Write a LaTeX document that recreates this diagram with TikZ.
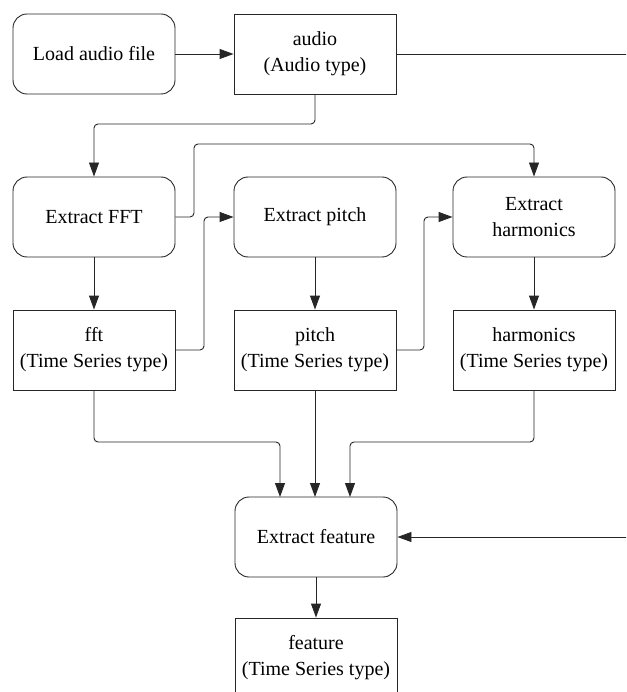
\documentclass[tikz,border=0pt]{standalone}
\usepackage{fontspec}
\setmainfont{Liberation Serif}
\usetikzlibrary{arrows.meta}
\begin{document}
\begin{tikzpicture}[x=1pt,y=-1pt,
  box/.style={draw=black!85, line width=0.9pt, font=\fontsize{20}{26}\selectfont,
    align=center, inner sep=0pt, minimum width=162pt, minimum height=80pt},
  proc/.style={box, rounded corners=14pt},
  data/.style={box},
  wire/.style={draw=black!85, line width=0.9pt, rounded corners=4pt},
  link/.style={wire, -{Triangle[length=14pt,width=10pt]}},
]
\clip (0,0) rectangle (626,692);

% processing steps (rounded) and data items (square)
\node[proc] (load)  at (94,54)   {Load audio file};
\node[data] (audio) at (315,54)  {audio\\(Audio type)};

\node[proc] (xfft)   at (94,217)  {Extract FFT};
\node[proc] (xpitch) at (315,217) {Extract pitch};
\node[proc] (xharm)  at (534,217) {Extract\\harmonics};

\node[data] (fft)   at (94,350)  {fft\\(Time Series type)};
\node[data] (pitch) at (315,350) {pitch\\(Time Series type)};
\node[data] (harm)  at (534,350) {harmonics\\(Time Series type)};

\node[proc] (xfeat) at (316,537) {Extract feature};
\node[data] (feat)  at (316,658) {feature\\(Time Series type)};

% free ends leaving the right edge
\coordinate (outA) at (630,54);
\coordinate (inB)  at (630,537);

% connectors
\draw[link] (load) -- (audio);
\draw[wire] (audio.east) -- (outA);
\draw[link] (audio.south) |- (94,124) -- (xfft.north);

\draw[link] (xfft.east) -- (194,217) |- (534,144) -- (xharm.north);
\draw[link] (fft.east) -- (204,350) |- (xpitch.west);
\draw[link] (pitch.east) -- (424,350) |- (xharm.west);

\draw[link] (xfft) -- (fft);
\draw[link] (xpitch) -- (pitch);
\draw[link] (xharm) -- (harm);

\draw[link] (fft.south) |- (280,442) -- (280,497);
\draw[link] (pitch.south) -- (315,497);
\draw[link] (harm.south) |- (350,442) -- (350,497);

\draw[link] (inB) -- (xfeat.east);
\draw[link] (xfeat) -- (feat);
\end{tikzpicture}
\end{document}
